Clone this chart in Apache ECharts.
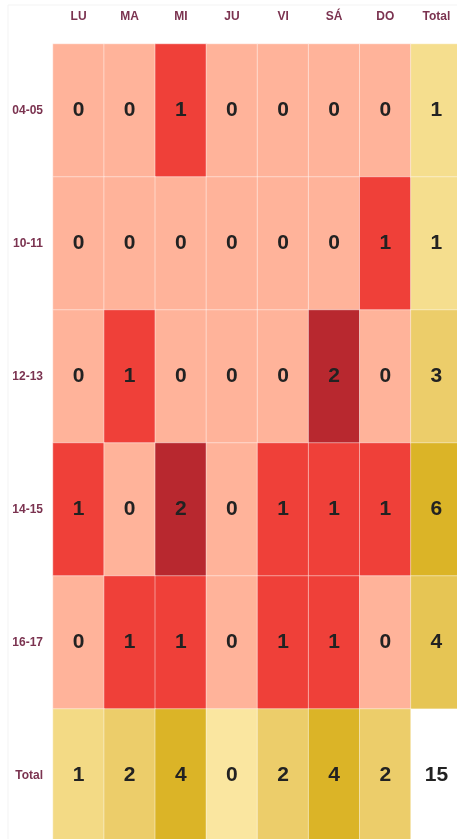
<!DOCTYPE html>
<html>
<head>
<meta charset="utf-8">
<script src="https://cdn.jsdelivr.net/npm/echarts@6/dist/echarts.min.js"></script>
<style>
  html, body { margin: 0; padding: 0; background: #ffffff; }
  #chart { width: 457px; height: 839px; }
</style>
</head>
<body>
<div id="chart"></div>
<script>
// días y franjas horarias
var days = ['LU', 'MA', 'MI', 'JU', 'VI', 'SÁ', 'DO']
var hours = ['04-05', '10-11', '12-13', '14-15', '16-17']
var totalLabel = 'Total'

// conteos por franja (fila) y día (columna)
var counts = [
  [0, 0, 1, 0, 0, 0, 0],
  [0, 0, 0, 0, 0, 0, 1],
  [0, 1, 0, 0, 0, 2, 0],
  [1, 0, 2, 0, 1, 1, 1],
  [0, 1, 1, 0, 1, 1, 0]
]
var rowTotals = [1, 1, 3, 6, 4]
var colTotals = [1, 2, 4, 0, 2, 4, 2]
var grandTotal = 15

var xCats = days.concat([totalLabel])
var yCats = hours.concat([totalLabel])

var cellData = []
counts.forEach(function (row, r) {
  row.forEach(function (v, c) { cellData.push([c, r, v]) })
})
var rowTotalData = rowTotals.map(function (v, r) { return [days.length, r, v] })
var colTotalData = colTotals.map(function (v, c) { return [c, hours.length, v] })

var myChart = echarts.init(document.getElementById('chart'))

var cellLabel = {
  show: true,
  color: '#222222',
  fontSize: 21,
  fontWeight: 'bold',
  fontFamily: 'Liberation Sans, Arial, sans-serif'
}
var cellBorder = {
  borderColor: 'rgba(255,255,255,0.45)',
  borderWidth: 1
}

var option = {
  animation: false,
  graphic: [{
    type: 'rect',
    shape: { x: 8, y: 5, width: 460, height: 840 },
    style: { fill: 'none', stroke: '#f3f3f3', lineWidth: 1 },
    z: -10
  }],
  grid: {
    left: 53,
    top: 44,
    width: 409,
    height: 798,
    outerBoundsMode: 'none',
    containLabel: false
  },
  xAxis: {
    type: 'category',
    position: 'top',
    data: xCats,
    axisLine: { show: false },
    axisTick: { show: false },
    splitLine: { show: false },
    axisLabel: {
      color: '#7b3350',
      fontSize: 12,
      fontWeight: 'bold',
      fontFamily: 'Liberation Sans, Arial, sans-serif',
      margin: 21
    }
  },
  yAxis: {
    type: 'category',
    inverse: true,
    data: yCats,
    axisLine: { show: false },
    axisTick: { show: false },
    splitLine: { show: false },
    axisLabel: {
      color: '#7b3350',
      fontSize: 12,
      fontWeight: 'bold',
      fontFamily: 'Liberation Sans, Arial, sans-serif',
      margin: 10
    }
  },
  visualMap: [
    {
      show: false,
      type: 'continuous',
      seriesIndex: 0,
      min: 0,
      max: 2,
      inRange: { color: ['#ffb39a', '#ef4039', '#b8282f'] }
    },
    {
      show: false,
      type: 'continuous',
      seriesIndex: 1,
      min: 0,
      max: 6,
      inRange: { color: ['#fae6a0', '#eccd6a', '#dbb427'] }
    },
    {
      show: false,
      type: 'continuous',
      seriesIndex: 2,
      min: 0,
      max: 4,
      inRange: { color: ['#fae6a0', '#eccd6a', '#dbb427'] }
    }
  ],
  series: [
    {
      type: 'heatmap',
      data: cellData,
      label: cellLabel,
      itemStyle: cellBorder
    },
    {
      type: 'heatmap',
      data: rowTotalData,
      label: cellLabel,
      itemStyle: cellBorder
    },
    {
      type: 'heatmap',
      data: colTotalData,
      label: cellLabel,
      itemStyle: cellBorder
    },
    {
      type: 'heatmap',
      data: [[days.length, hours.length, grandTotal]],
      label: cellLabel,
      itemStyle: { color: '#ffffff' }
    }
  ]
}

myChart.setOption(option)
</script>
</body>
</html>
